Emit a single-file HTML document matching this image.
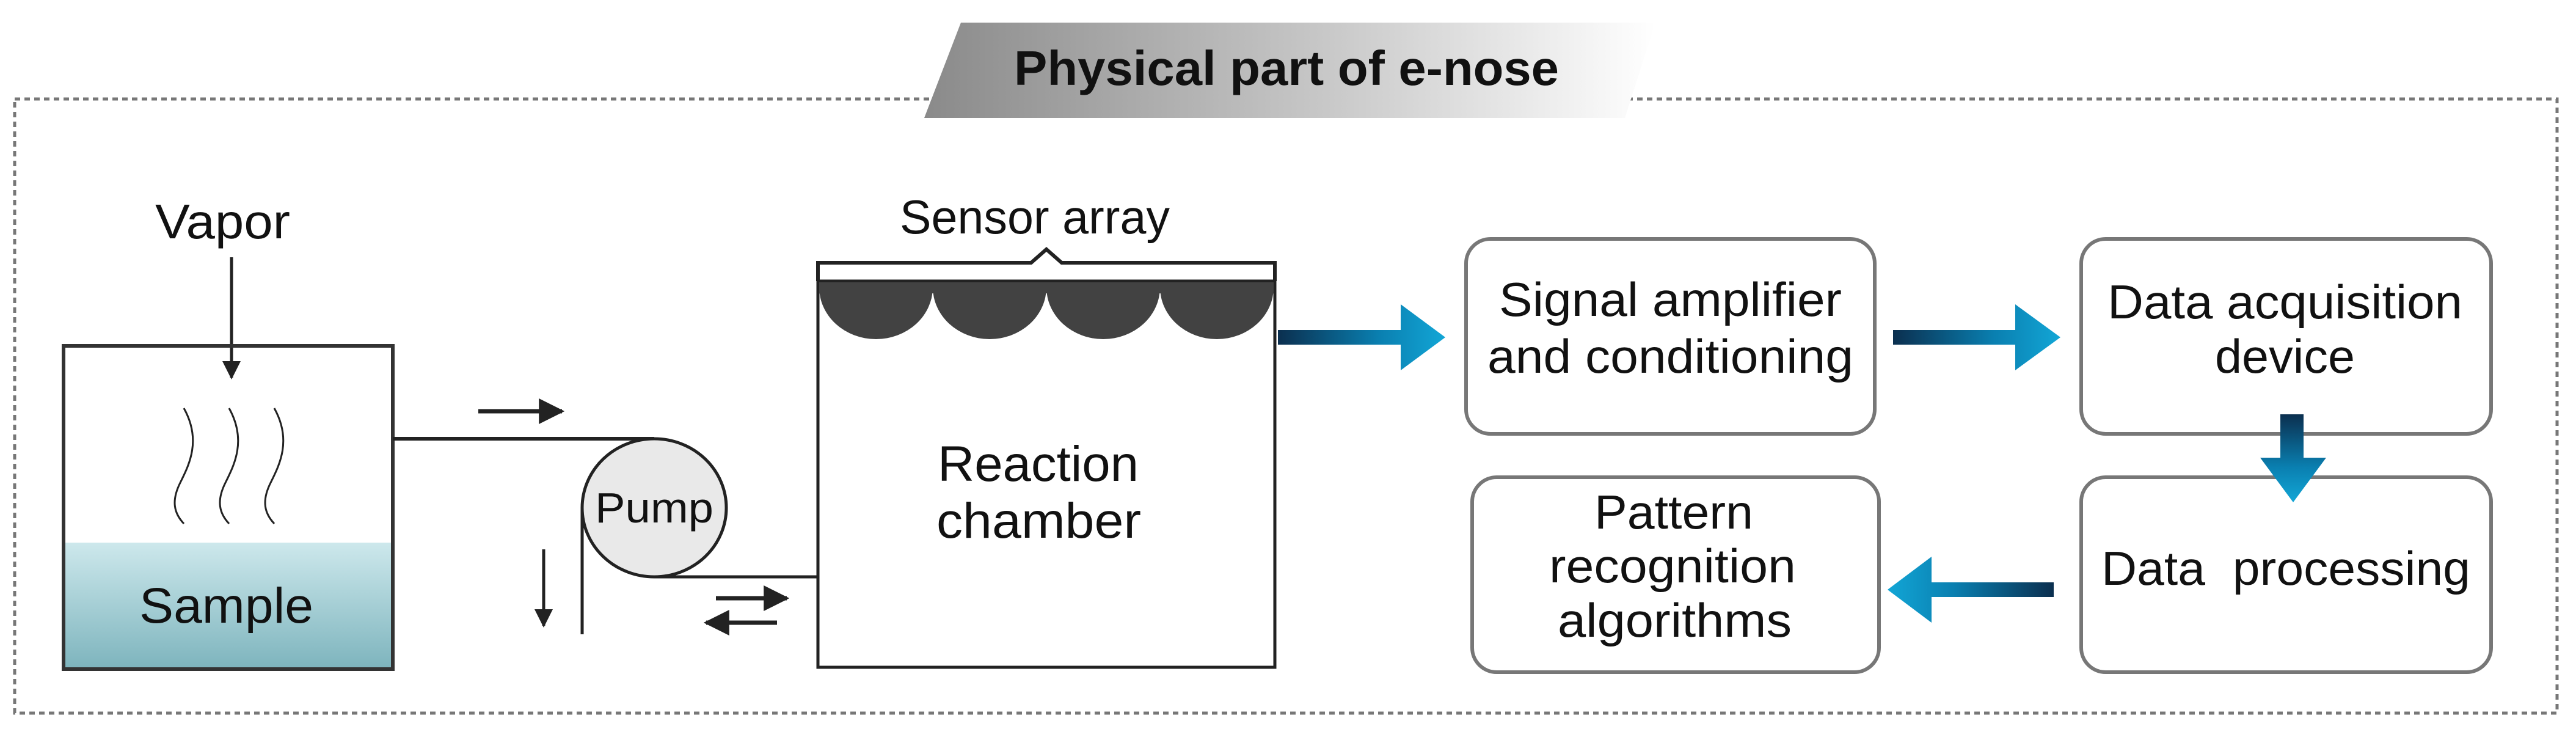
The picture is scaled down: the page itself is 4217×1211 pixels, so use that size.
<!DOCTYPE html>
<html><head><meta charset="utf-8"><style>
html,body{margin:0;padding:0;background:#fff;}
svg{display:block;}
text{font-family:"Liberation Sans",sans-serif;fill:#111;}
</style></head><body>
<svg width="4217" height="1211" viewBox="0 0 4217 1211" xmlns="http://www.w3.org/2000/svg">
<defs>
<linearGradient id="ban" x1="0" x2="1" y1="0" y2="0">
<stop offset="0" stop-color="#8a8a8a"/><stop offset="0.55" stop-color="#c8c8c8"/><stop offset="1" stop-color="#ffffff"/>
</linearGradient>
<linearGradient id="liq" x1="0" x2="0" y1="0" y2="1">
<stop offset="0" stop-color="#cde8ec"/><stop offset="1" stop-color="#7db4bd"/>
</linearGradient>
<linearGradient id="bR" x1="0" x2="1" y1="0" y2="0">
<stop offset="0" stop-color="#0b2f4f"/><stop offset="0.6" stop-color="#0a7fb0"/><stop offset="1" stop-color="#12a6d6"/>
</linearGradient>
<linearGradient id="bL" x1="1" x2="0" y1="0" y2="0">
<stop offset="0" stop-color="#0b2f4f"/><stop offset="0.6" stop-color="#0a7fb0"/><stop offset="1" stop-color="#12a6d6"/>
</linearGradient>
<linearGradient id="bD" x1="0" x2="0" y1="0" y2="1">
<stop offset="0" stop-color="#0b2f4f"/><stop offset="0.6" stop-color="#0a7fb0"/><stop offset="1" stop-color="#12a6d6"/>
</linearGradient>
<marker id="ah" viewBox="0 0 10 10" refX="9" refY="5" markerWidth="6" markerHeight="6" orient="auto"><path d="M0,0 L10,5 L0,10 z" fill="#222"/></marker>
</defs>

<rect x="24" y="162" width="4162" height="1005" fill="none" stroke="#777" stroke-width="5" stroke-dasharray="9,7"/>

<polygon points="1573,37 2710,37 2660,193 1513,193" fill="url(#ban)"/>
<text x="1660" y="139" font-size="80" font-weight="bold" textLength="892" lengthAdjust="spacingAndGlyphs">Physical part of e-nose</text>

<text x="254" y="390" font-size="80" textLength="221" lengthAdjust="spacingAndGlyphs">Vapor</text>
<line x1="379" y1="421" x2="379" y2="618" stroke="#222" stroke-width="5" marker-end="url(#ah)"/>

<rect x="104" y="888" width="539" height="207" fill="url(#liq)"/>
<rect x="104" y="566" width="539" height="529" fill="none" stroke="#333" stroke-width="6"/>
<text x="228" y="1019" font-size="82" textLength="285" lengthAdjust="spacingAndGlyphs">Sample</text>
<g fill="none" stroke="#222" stroke-width="3">
<path d="M301,668 C330,720 310,760 295,790 C280,820 285,840 301,857"/>
<path d="M375,668 C404,720 384,760 369,790 C354,820 359,840 375,857"/>
<path d="M449,668 C478,720 458,760 443,790 C428,820 433,840 449,857"/>
</g>

<line x1="643" y1="718" x2="1071" y2="718" stroke="#222" stroke-width="6"/>
<line x1="1071" y1="944" x2="1339" y2="944" stroke="#222" stroke-width="5"/>
<line x1="953" y1="830" x2="953" y2="1038" stroke="#222" stroke-width="5"/>
<ellipse cx="1071" cy="831" rx="118" ry="113" fill="#e9e9e9" stroke="#222" stroke-width="5"/>
<text x="1071" y="855" font-size="70" text-anchor="middle" textLength="194" lengthAdjust="spacingAndGlyphs">Pump</text>

<line x1="783" y1="673" x2="920" y2="673" stroke="#222" stroke-width="7" marker-end="url(#ah)"/>
<line x1="890" y1="899" x2="890" y2="1024" stroke="#222" stroke-width="5" marker-end="url(#ah)"/>
<line x1="1172" y1="979" x2="1288" y2="979" stroke="#222" stroke-width="7" marker-end="url(#ah)"/>
<line x1="1272" y1="1019" x2="1156" y2="1019" stroke="#222" stroke-width="7" marker-end="url(#ah)"/>

<rect x="1339" y="460" width="748" height="632" fill="#fff" stroke="#222" stroke-width="5"/>
<path d="M1339,460 L1339,430 L1688,430 L1713,408 L1738,430 L2087,430 L2087,460" fill="none" stroke="#222" stroke-width="6"/>
<g fill="#424242">
<rect x="1341" y="462" width="744" height="18"/>
<path d="M1341,470 A93,85 0 0 0 1527,470 Z"/>
<path d="M1527,470 A93,85 0 0 0 1713,470 Z"/>
<path d="M1713,470 A93,85 0 0 0 1899,470 Z"/>
<path d="M1899,470 A93,85 0 0 0 2085,470 Z"/>
</g>
<text x="1473" y="382" font-size="78" textLength="442" lengthAdjust="spacingAndGlyphs">Sensor array</text>
<text x="1535" y="787" font-size="82" textLength="329" lengthAdjust="spacingAndGlyphs">Reaction</text>
<text x="1533" y="880" font-size="82" textLength="335" lengthAdjust="spacingAndGlyphs">chamber</text>

<g fill="none" stroke="#777" stroke-width="6">
<rect x="2400" y="391" width="669" height="319" rx="40"/>
<rect x="3407" y="391" width="671" height="319" rx="40"/>
<rect x="3407" y="781" width="671" height="319" rx="40"/>
<rect x="2410" y="781" width="666" height="319" rx="40"/>
</g>

<polygon points="2092,540 2293,540 2293,498 2366,552 2293,606 2293,564 2092,564" fill="url(#bR)"/>
<polygon points="3099,540 3299,540 3299,498 3373,552 3299,606 3299,564 3099,564" fill="url(#bR)"/>
<polygon points="3733,678 3771,678 3771,749 3808,749 3754,822 3700,749 3733,749" fill="url(#bD)"/>
<polygon points="3362,953 3162,953 3162,911 3090,965 3162,1019 3162,977 3362,977" fill="url(#bL)"/>

<text x="2454" y="517" font-size="78" textLength="561" lengthAdjust="spacingAndGlyphs">Signal amplifier</text>
<text x="2435" y="610" font-size="78" textLength="599" lengthAdjust="spacingAndGlyphs">and conditioning</text>
<text x="3450" y="521" font-size="78" textLength="581" lengthAdjust="spacingAndGlyphs">Data acquisition</text>
<text x="3626" y="610" font-size="78" textLength="229" lengthAdjust="spacingAndGlyphs">device</text>
<text x="3440" y="957" font-size="78" textLength="604" lengthAdjust="spacingAndGlyphs" xml:space="preserve">Data  processing</text>
<text x="2610" y="865" font-size="78" textLength="260" lengthAdjust="spacingAndGlyphs">Pattern</text>
<text x="2536" y="953" font-size="78" textLength="404" lengthAdjust="spacingAndGlyphs">recognition</text>
<text x="2550" y="1042" font-size="78" textLength="383" lengthAdjust="spacingAndGlyphs">algorithms</text>
</svg>
</body></html>
